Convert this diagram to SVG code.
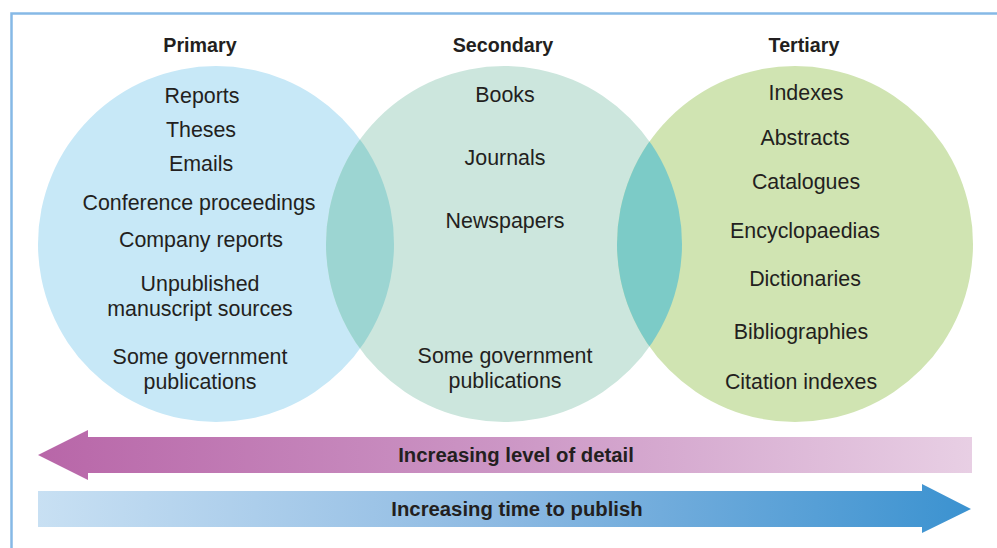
<svg xmlns="http://www.w3.org/2000/svg" width="997" height="548" viewBox="0 0 997 548">
<style>
.hdr{font-family:"Liberation Sans",Arial,sans-serif;font-weight:bold;font-size:19.7px;fill:#231f20;text-anchor:middle}
.itm{font-family:"Liberation Sans",Arial,sans-serif;font-size:21.4px;fill:#231f20;text-anchor:middle}
.lbl{font-family:"Liberation Sans",Arial,sans-serif;font-weight:bold;font-size:20.3px;fill:#231f20;text-anchor:middle}
</style>
<defs>
<linearGradient id="gPink" x1="38" y1="0" x2="972" y2="0" gradientUnits="userSpaceOnUse">
<stop offset="0" stop-color="#b866a8"/>
<stop offset="0.5" stop-color="#cc96c5"/>
<stop offset="1" stop-color="#e8cfe4"/>
</linearGradient>
<linearGradient id="gBlue" x1="38" y1="0" x2="972" y2="0" gradientUnits="userSpaceOnUse">
<stop offset="0" stop-color="#c8e0f3"/>
<stop offset="0.5" stop-color="#8cb9e2"/>
<stop offset="1" stop-color="#3b92d0"/>
</linearGradient>
<clipPath id="cSec"><circle cx="504" cy="244" r="178"/></clipPath>
</defs>
<rect width="997" height="548" fill="#ffffff"/>
<path d="M11.5 548 V13.5 H997" fill="none" stroke="#86b9e6" stroke-width="2.5"/>

<g id="primary">
<circle cx="216" cy="244" r="178" fill="#c7e8f7"/>
</g>
<g id="secondary">
<circle cx="504" cy="244" r="178" fill="#cce6dd"/>
</g>
<g id="tertiary">
<circle cx="795" cy="244" r="178" fill="#d0e4b2"/>
</g>
<g id="overlaps">
<circle cx="216" cy="244" r="178" fill="#9cd5d2" clip-path="url(#cSec)"/>
<circle cx="795" cy="244" r="178" fill="#7ccbc7" clip-path="url(#cSec)"/>
</g>

<g id="primary-text">
<text class="hdr" x="200" y="52">Primary</text>
<text class="itm" x="202" y="103">Reports</text>
<text class="itm" x="201" y="137">Theses</text>
<text class="itm" x="201" y="171">Emails</text>
<text class="itm" x="199" y="210">Conference proceedings</text>
<text class="itm" x="201" y="247">Company reports</text>
<text class="itm" x="200" y="291">Unpublished</text>
<text class="itm" x="200" y="316">manuscript sources</text>
<text class="itm" x="200" y="364">Some government</text>
<text class="itm" x="200" y="389">publications</text>
</g>
<g id="secondary-text">
<text class="hdr" x="503" y="52">Secondary</text>
<text class="itm" x="505" y="102">Books</text>
<text class="itm" x="505" y="165">Journals</text>
<text class="itm" x="505" y="228">Newspapers</text>
<text class="itm" x="505" y="363">Some government</text>
<text class="itm" x="505" y="388">publications</text>
</g>
<g id="tertiary-text">
<text class="hdr" x="804" y="52">Tertiary</text>
<text class="itm" x="806" y="100">Indexes</text>
<text class="itm" x="805" y="145">Abstracts</text>
<text class="itm" x="806" y="189">Catalogues</text>
<text class="itm" x="805" y="238">Encyclopaedias</text>
<text class="itm" x="805" y="286">Dictionaries</text>
<text class="itm" x="801" y="339">Bibliographies</text>
<text class="itm" x="801" y="389">Citation indexes</text>
</g>

<g id="connectors">
<g id="detail-arrow">
<polygon points="38,455 88,430 88,437 972,437 972,473 88,473 88,480" fill="url(#gPink)"/>
<text class="lbl" x="516" y="462">Increasing level of detail</text>
</g>
<g id="time-arrow">
<polygon points="38,491 922,491 922,484 971,509 922,533 922,527 38,527" fill="url(#gBlue)"/>
<text class="lbl" x="517" y="516">Increasing time to publish</text>
</g>
</g>
</svg>
